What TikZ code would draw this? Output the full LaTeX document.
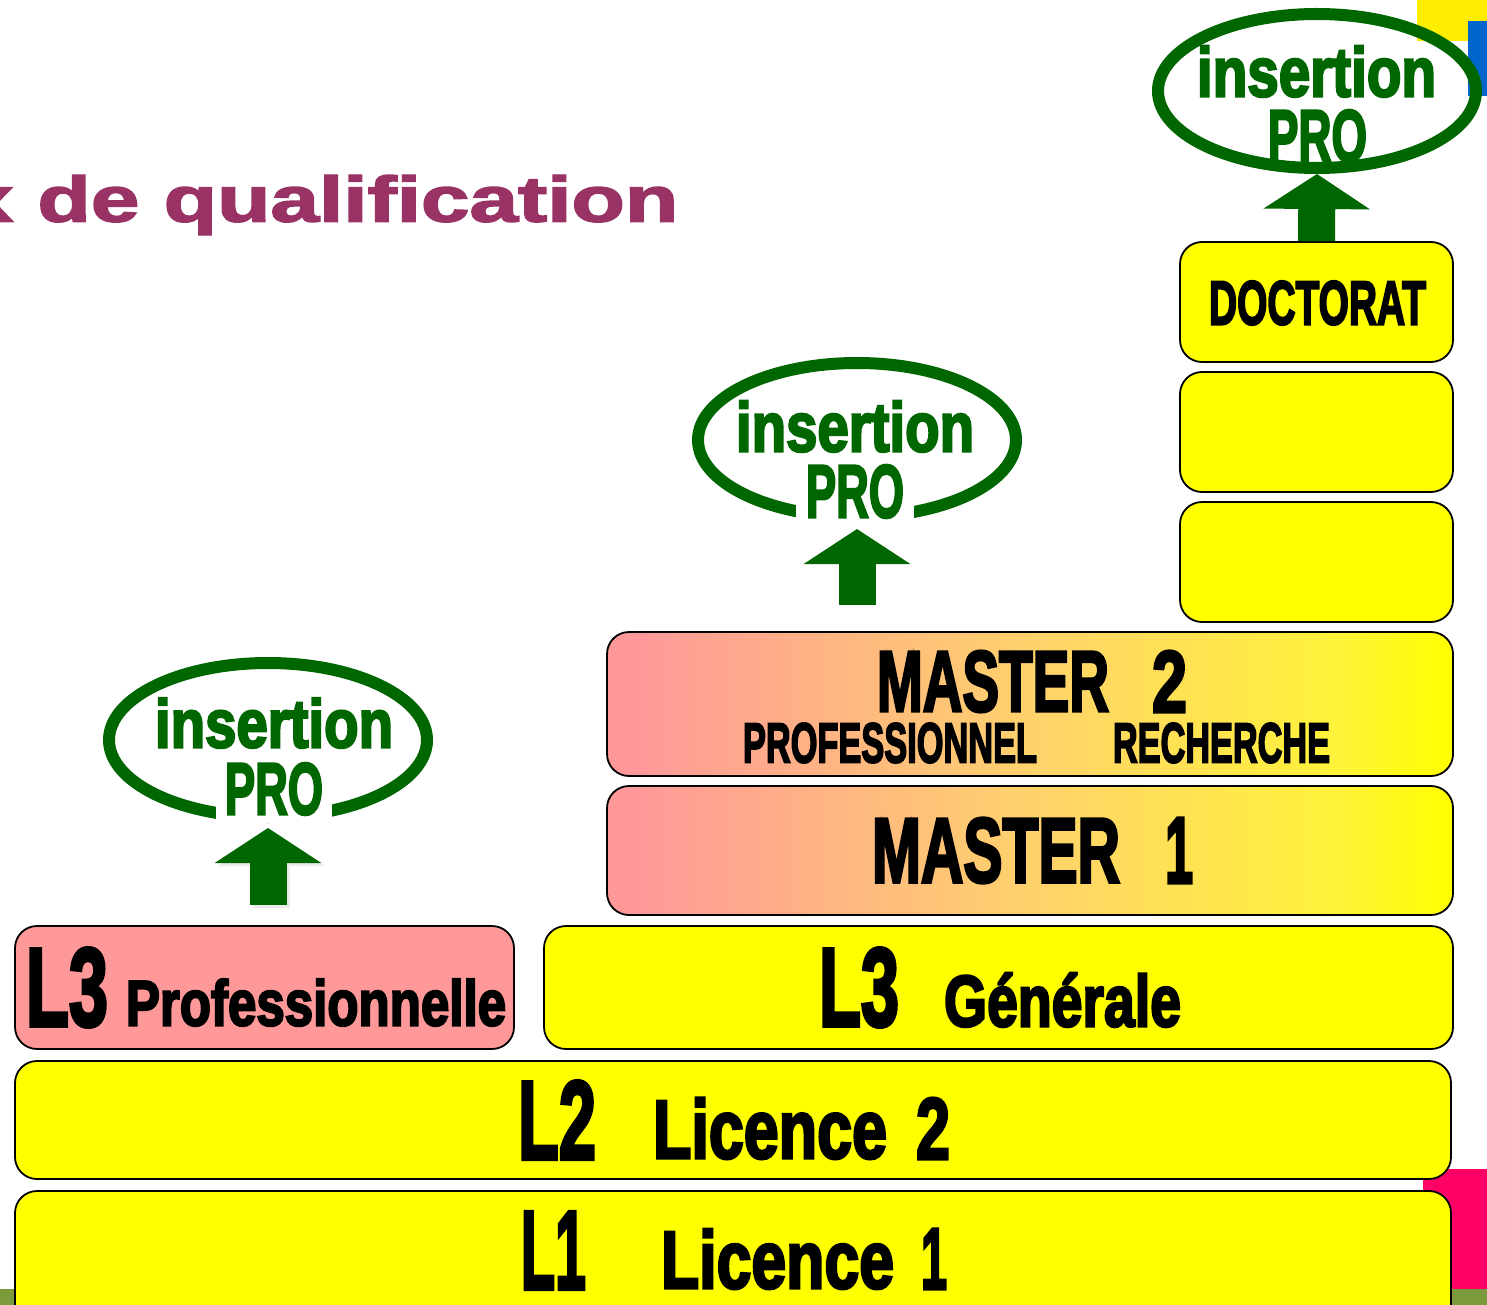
\documentclass[tikz,border=0pt]{standalone}
\usepackage{fontspec}
\usepackage{graphicx}
\usetikzlibrary{shapes.geometric,arrows.meta}
\setmainfont{Liberation Sans}[BoldFont=* Bold,BoldFeatures={FakeBold=3.6}]
\newfontfamily\titlefont{Liberation Sans Bold}[FakeBold=2.2]
\definecolor{dkgreen}{HTML}{006600}
\definecolor{pk}{HTML}{FF9999}
\definecolor{yl}{HTML}{FFFF00}
\definecolor{ttl}{HTML}{993366}
\definecolor{gmid}{HTML}{FFD26C}
\definecolor{ghi}{HTML}{FFF23A}
\pgfdeclarehorizontalshading{mastshade}{100bp}{color(0bp)=(pk); color(27bp)=(pk); color(50bp)=(gmid); color(68bp)=(ghi); color(75bp)=(yl); color(100bp)=(yl)}
% \lbl[options]{name}{x1}{y1}{x2}{y2}{text}: text fitted to a pixel box
\newcommand\lbl[7][]{%
  \pgfmathsetlengthmacro\lw{(#5-#3)*1pt}%
  \pgfmathsetlengthmacro\lh{(#6-#4)*1pt}%
  \node[inner sep=0pt,#1] (#2) at ({(#3+#5)/2},{(#4+#6)/2}) {\resizebox*{\lw}{\lh}{\bfseries #7}};}
% \bx: rounded box by its pixel corners
\newcommand\bx[6][]{%
  \pgfmathsetlengthmacro\lw{(#5-#3)*1pt}%
  \pgfmathsetlengthmacro\lh{(#6-#4)*1pt}%
  \node[stepbox,minimum width=\lw,minimum height=\lh,#1] (#2) at ({(#3+#5)/2},{(#4+#6)/2}) {};}
\tikzset{
  stepbox/.style={draw=black,line width=1.8pt,rounded corners=22pt,fill=yl,inner sep=0pt},
  mastbox/.style={shading=mastshade,shading angle=0},
  pinkbox/.style={fill=pk},
  oval/.style={ellipse,draw=dkgreen,line width=12pt,minimum width=318pt,minimum height=154pt,inner sep=0pt},
  bigarrow/.style={draw=dkgreen,line width=37pt,-{Triangle[width=105pt,length=35pt,fill=dkgreen]}},
  shadowarrow/.style={draw=black!8,line width=37pt,-{Triangle[width=105pt,length=35pt,fill=black!8]}},
}
\begin{document}
\begin{tikzpicture}[x=1pt,y=-1pt]
\path[use as bounding box,clip] (0,0) rectangle (1487,1305);
% backdrop
\fill[white] (0,0) rectangle (1487,1305);
\fill[color={rgb,255:red,255;green,237;blue,0}] (1417,0) rectangle (1487,41);
\fill[color={rgb,255:red,0;green,102;blue,204}] (1468,21) rectangle (1487,96);
\fill[color={rgb,255:red,255;green,0;blue,102}] (1423,1169) rectangle (1487,1292);
\fill[color={rgb,255:red,122;green,154;blue,60}] (0,1289) rectangle (1487,1305);
% title
\lbl[text=ttl]{title}{-35}{175}{678}{235}{\titlefont\mdseries x de qualification}
% boxes
\bx{doc}{1180}{242}{1453}{362}
\bx{emptyb}{1180}{372}{1453}{492}
\bx{emptya}{1180}{502}{1453}{622}
\bx[mastbox]{mtwo}{607}{632}{1453}{776}
\bx[mastbox]{mone}{607}{786}{1453}{915}
\bx[pinkbox]{lpro}{15}{926}{514}{1049}
\bx{lgen}{544}{926}{1453}{1049}
\bx{ltwo}{15}{1061}{1451}{1179}
\bx{lone}{15}{1191}{1451}{1340}
% ovals
\node[oval] (ovc) at (1317,91) {};
\node[oval] (ovb) at (857,440) {};
\node[oval] (ova) at (268,740) {};
% arrow ends
\coordinate (abot) at (268,905);
\coordinate (atop) at (268,828);
\coordinate (asbot) at (271,908);
\coordinate (astop) at (271,831);
\coordinate (bbot) at (857,605);
\coordinate (btop) at (857,529);
\draw[shadowarrow] (asbot) -- (astop);
\draw[bigarrow] (abot) -- (atop);
\draw[bigarrow] (bbot) -- (btop);
\draw[bigarrow] (doc.north) -- (ovc.south);
% oval texts
\lbl[text=dkgreen]{insc}{1197}{46}{1436}{97}{insertion}
\lbl[text=dkgreen]{proc}{1268}{110}{1367}{162}{PRO}
\lbl[text=dkgreen,fill=white,inner xsep=10pt,inner ysep=8pt]{prob}{806}{465}{904}{518}{PRO}
\lbl[text=dkgreen]{insb}{736}{401}{974}{452}{insertion}
\lbl[text=dkgreen,fill=white,inner xsep=9pt,inner ysep=8pt]{proa}{225}{763}{323}{815}{PRO}
\lbl[text=dkgreen]{insa}{155}{698}{393}{748}{insertion}
% box texts
\lbl{tdoc}{1209}{281}{1426}{325}{DOCTORAT}
\lbl{tmtwo}{877}{651}{1109}{712}{MASTER}
\lbl{tmtwon}{1152}{651}{1187}{712}{2}
\lbl{tprof}{743}{723}{1037}{763}{PROFESSIONNEL}
\lbl{trech}{1113}{723}{1330}{763}{RECHERCHE}
\lbl{tmone}{872}{818}{1120}{883}{MASTER}
\lbl{tmonen}{1165}{818}{1193}{883}{1}
\lbl{tlp}{26}{948}{108}{1027}{L3}
\lbl{tprofl}{126}{979}{506}{1026}{Professionnelle}
\lbl{tlg}{819}{948}{899}{1027}{L3}
\lbl{tgen}{944}{973}{1181}{1027}{Générale}
\lbl{tltwo}{518}{1081}{596}{1159}{L2}
\lbl{tlic}{653}{1098}{887}{1159}{Licence}
\lbl{tlicn}{916}{1098}{950}{1159}{2}
\lbl{tlone}{521}{1212}{586}{1289}{L1}
\lbl{tlicb}{661}{1229}{894}{1289}{Licence}
\lbl{tlicbn}{921}{1229}{947}{1289}{1}
\end{tikzpicture}
\end{document}
